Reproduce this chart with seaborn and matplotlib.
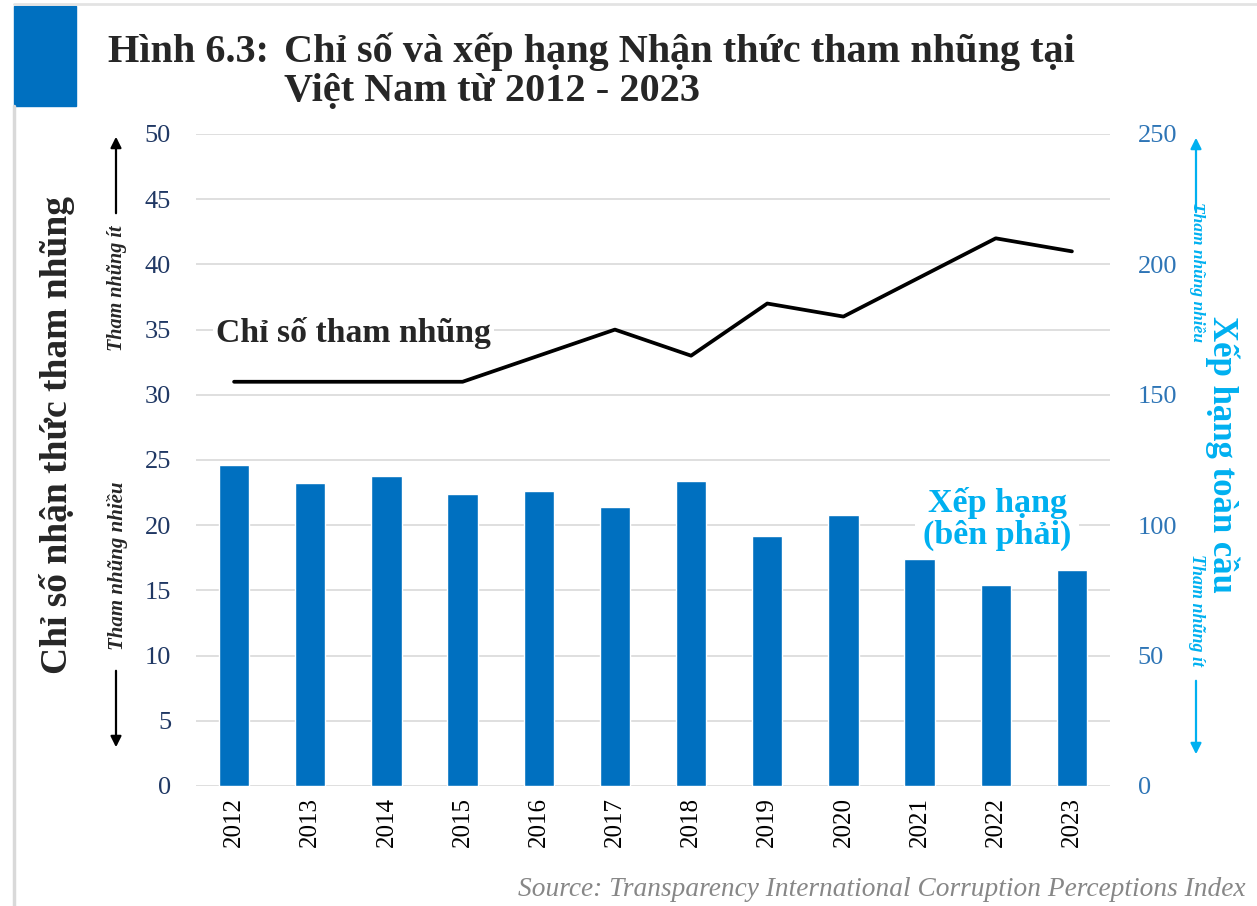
import numpy as np
import pandas as pd
import matplotlib.pyplot as plt
import seaborn as sns
from matplotlib.ticker import MultipleLocator
from matplotlib.lines import Line2D
from matplotlib.patches import Rectangle

# ── dữ liệu ───────────────────────────────────────────
years = ["2012", "2013", "2014", "2015", "2016", "2017",
         "2018", "2019", "2020", "2021", "2022", "2023"]
cpi_score = [31, 31, 31, 31, 33, 35, 33, 37, 36, 39, 42, 41]
global_rank = [123, 116, 119, 112, 113, 107, 117, 96, 104, 87, 77, 83]
left_ticks = list(range(0, 51, 5))
right_ticks = list(range(0, 251, 50))

df = pd.DataFrame({"year": years, "cpi": cpi_score, "rank": global_rank})

BAR_BLUE = "#0070C0"
LIGHT_BLUE = "#00B0F0"
NAVY = "#203864"
RIGHT_TICK = "#2E75B6"

sns.set_theme(style="white")
plt.rcParams["font.family"] = ["Liberation Serif", "DejaVu Serif"]

W, H = 1257, 906
fig = plt.figure(figsize=(W / 100, H / 100), dpi=100)


def fx(x):
    return x / W


def fy(y):
    return 1 - y / H


ax = fig.add_axes([fx(196), fy(786), (1110 - 196) / W, (786 - 134) / H])
ax2 = ax.twinx()

# cột xếp hạng (trục phải)
sns.barplot(data=df, x="year", y="rank", color=BAR_BLUE, saturation=1,
            width=0.4, ax=ax2)
# đường chỉ số (trục trái)
sns.pointplot(data=df, x="year", y="cpi", color="black", markers="",
              linestyles="-", linewidth=2.7, errorbar=None, ax=ax)

ax.set_zorder(ax2.get_zorder() + 1)
ax.patch.set_visible(False)

ax.set_ylim(0, 50)
ax.set_yticks(left_ticks)
ax2.set_ylim(0, 250)
ax2.set_yticks(right_ticks)
ax2.yaxis.set_minor_locator(MultipleLocator(25))
ax.set_xlim(-0.5, len(years) - 0.5)

ax.grid(False)
ax2.grid(axis="y", which="both", color="#D9D9D9", linewidth=1.2)
ax2.set_axisbelow(True)

for a in (ax, ax2):
    a.set_xlabel("")
    a.set_ylabel("")
    for s in a.spines.values():
        s.set_visible(False)

ax.tick_params(axis="y", length=0, pad=18, labelsize=19, labelcolor=NAVY)
ax2.tick_params(axis="y", which="both", length=0, pad=20, labelsize=19,
                labelcolor=RIGHT_TICK)
ax.tick_params(axis="x", length=0, pad=8, labelsize=18, labelrotation=90,
               labelcolor="black")

# ── chú thích trong vùng vẽ ───────────────────────────
fig.text(fx(216), fy(333), "Chỉ số tham nhũng", fontsize=24.3, weight="bold",
         ha="left", va="center",
         bbox=dict(facecolor="white", edgecolor="none", pad=2))
fig.text(fx(997), fy(519), "Xếp hạng\n(bên phải)", fontsize=24.5,
         weight="bold", color=LIGHT_BLUE, ha="center", va="center",
         linespacing=1.05,
         bbox=dict(facecolor="white", edgecolor="none", pad=6))

# ── tiêu đề ───────────────────────────────────────────
fig.patches.append(Rectangle((fx(14), fy(106)), (76 - 14) / W, (106 - 6) / H,
                             transform=fig.transFigure, color=BAR_BLUE))
fig.add_artist(Line2D([fx(14), fx(14)], [fy(106), 0], color="#D9D9D9",
                      linewidth=2.5, transform=fig.transFigure))
fig.add_artist(Line2D([fx(14), 1], [fy(4), fy(4)], color="#E3E3E3",
                      linewidth=2, transform=fig.transFigure))
fig.text(fx(108), fy(62), "Hình 6.3:", fontsize=29, weight="bold",
         va="baseline")
fig.text(fx(284), fy(62), "Chỉ số và xếp hạng Nhận thức tham nhũng tại",
         fontsize=29, weight="bold", va="baseline")
fig.text(fx(284), fy(101), "Việt Nam từ 2012 - 2023", fontsize=29,
         weight="bold", va="baseline")

# ── nhãn trục trái ────────────────────────────────────
fig.text(fx(57), fy(435), "Chỉ số nhận thức tham nhũng", rotation=90,
         fontsize=27, weight="bold", ha="center", va="center")
fig.text(fx(117), fy(288), "Tham nhũng ít", rotation=90, fontsize=14.5,
         style="italic", weight="bold", ha="center", va="center")
fig.text(fx(117), fy(566), "Tham nhũng nhiều", rotation=90, fontsize=15,
         style="italic", weight="bold", ha="center", va="center")

arrow_k = dict(arrowstyle="-|>", mutation_scale=16, linewidth=1.6)
ax.annotate("", xy=(fx(116), fy(134)), xytext=(fx(116), fy(216)),
            xycoords="figure fraction", annotation_clip=False,
            arrowprops=dict(color="black", **arrow_k))
ax.annotate("", xy=(fx(116), fy(750)), xytext=(fx(116), fy(668)),
            xycoords="figure fraction", annotation_clip=False,
            arrowprops=dict(color="black", **arrow_k))

# ── nhãn trục phải ────────────────────────────────────
fig.text(fx(1222), fy(454), "Xếp hạng toàn cầu", rotation=270, fontsize=25,
         weight="bold", color=LIGHT_BLUE, ha="center", va="center")
fig.text(fx(1197), fy(272), "Tham nhũng nhiều", rotation=270, fontsize=12.5,
         style="italic", weight="bold", color=LIGHT_BLUE, ha="center",
         va="center")
fig.text(fx(1197), fy(610), "Tham nhũng ít", rotation=270, fontsize=13,
         style="italic", weight="bold", color=LIGHT_BLUE, ha="center",
         va="center")
ax.annotate("", xy=(fx(1196), fy(135)), xytext=(fx(1196), fy(215)),
            xycoords="figure fraction", annotation_clip=False,
            arrowprops=dict(color=LIGHT_BLUE, **arrow_k))
ax.annotate("", xy=(fx(1196), fy(757)), xytext=(fx(1196), fy(678)),
            xycoords="figure fraction", annotation_clip=False,
            arrowprops=dict(color=LIGHT_BLUE, **arrow_k))

# ── nguồn ─────────────────────────────────────────────
fig.text(fx(1245), fy(890),
         "Source: Transparency International Corruption Perceptions Index",
         fontsize=19.7, style="italic", color="#878787", ha="right",
         va="center")

fig.savefig("out.png", dpi=100, facecolor="white")
